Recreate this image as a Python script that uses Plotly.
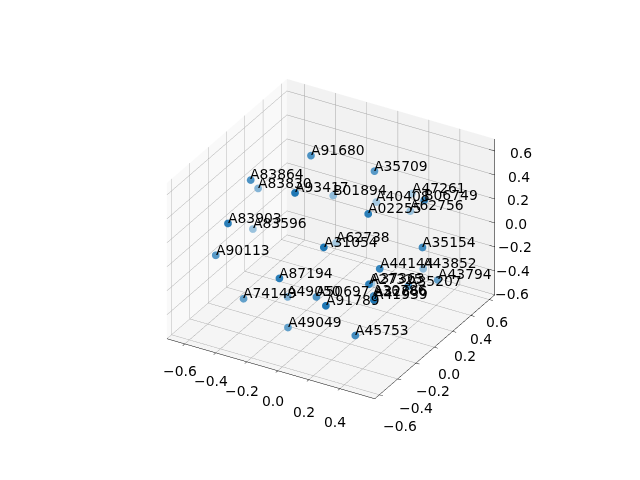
import plotly.graph_objects as go

names = ["A91680","A35709","A83864","A83830","A93417","B01894","A47261","B06749","A40408","A02255","A62756","A83903","A83596","A31054","A62738","A35154","A90113","A87194","A44144","A43852","A43794","A35207","A74149","A49050","A50697","A91789","A49049","A45753","A27325","A37363","A30786","A32866","A41939"]
xs = [-0.185,0.137,-0.416,-0.534,-0.054,-0.194,0.118,0.518,-0.043,0.299,0.167,-0.366,-0.569,0.164,-0.181,0.542,-0.513,-0.04,0.398,0.343,0.562,0.494,-0.351,-0.207,0.065,0.256,-0.096,0.34,0.401,0.048,0.374,0.277,0.48]
ys = [0.024,0.172,-0.243,0.038,-0.372,0.282,0.614,0.07,0.497,-0.171,0.512,-0.576,0.04,-0.427,0.29,0.01,-0.46,-0.566,-0.213,0.355,0.143,-0.064,-0.431,-0.194,-0.34,-0.56,-0.378,-0.381,-0.335,0.291,-0.238,-0.069,-0.415]
zs = [0.68,0.573,0.567,0.267,0.68,0.173,0.087,0.539,0.033,0.504,0.026,0.444,-0.086,0.344,-0.223,0.195,0.047,0.101,0.111,-0.285,-0.157,-0.097,-0.274,-0.362,-0.164,-0.021,-0.454,-0.356,0.064,-0.477,-0.108,-0.26,0.015]
alphas = [.8,.75,.8,.55,1,.5,.4,.9,.4,.95,.45,.95,.45,1,.4,.85,.75,.95,.9,.5,.7,.8,.7,.6,.8,1,.7,.85,.95,.4,.85,.7,1]
xticks = [-.6,-.4,-.2,0,.2,.4]
yzticks = [-.6,-.4,-.2,0,.2,.4,.6]
xr, yr, zr = [-.715, .625], [-.65, .66], [-.6, .70]

def blend(a, base=(31, 119, 180)):
    return "rgb(%d,%d,%d)" % tuple(round(a * c + (1 - a) * 255) for c in base)

def fmt(v):
    return f"{v:.1f}".replace("-", "\u2212")

FONT = dict(family="DejaVu Sans", size=13.9, color="black")
def note(x, y, z, text, xanchor, yanchor, xshift, yshift):
    return dict(x=x, y=y, z=z, text=text, showarrow=False, xanchor=xanchor, yanchor=yanchor,
                xshift=xshift, yshift=yshift, borderpad=0, borderwidth=0, font=FONT)

xedge, yedge, ylow = xr[1] - 1e-4, yr[1] - 1e-4, yr[0] + 1e-4
zlow = zr[0] + 1e-4
annotations = [note(x, y, z, n, "left", "bottom", 0, -2.5) for x, y, z, n in zip(xs, ys, zs, names)]
annotations += [note(v, ylow, zlow, fmt(v), "center", "middle", -5, -27 - 6 * (v + .6)) for v in xticks]
annotations += [note(xedge, v, zlow, fmt(v), "center", "middle", 21 - 10.8 * (v + .6), -31 + 7.5 * (v + .6)) for v in yzticks]
annotations += [note(xedge, yedge, v, fmt(v), "center", "middle", 17 + 7.5 * (v + .6), .5 - 2.5 * (v + .6)) for v in yzticks]

ax = dict(showbackground=True, gridcolor="#a4a4a4", gridwidth=1, showline=True, linecolor="black", linewidth=1,
          ticks="outside", ticklen=4, tickcolor="black", zeroline=False, showspikes=False, title=dict(text=""),
          showticklabels=False)

zedge_x, zedge_y, zedge_z = [], [], []
for v in yzticks:
    zedge_x += [xedge, xedge - .035, None]
    zedge_y += [yedge, yedge, None]
    zedge_z += [v, v, None]
zedge_x += [xedge, xedge]; zedge_y += [yedge, yedge]; zedge_z += [zr[0], zr[1]]

colors = [blend(a) for a in alphas]
fig = go.Figure([
    go.Scatter3d(x=xs, y=ys, z=zs, mode="markers",
                 marker=dict(size=4.5, color=colors, line=dict(width=0, color=colors)), hoverinfo="skip"),
    go.Scatter3d(x=zedge_x, y=zedge_y, z=zedge_z, mode="lines", line=dict(color="black", width=1), hoverinfo="skip"),
])
t = 2.024
r = (.866, .5, 0); u = (-.25, .433, .866); e = (.433, -.75, .5)
c = [(8 / 118 * a - 9 / 118 * b) / 2 for a, b in zip(r, u)]
fig.update_layout(width=640, height=480, margin=dict(l=0, r=0, t=0, b=0), paper_bgcolor="white", showlegend=False,
    scene=dict(domain=dict(x=[0.034, 1], y=[0, 1]), aspectmode="manual", aspectratio=dict(x=1, y=1, z=.75),
        camera=dict(eye=dict(x=e[0]*t + c[0], y=e[1]*t + c[1], z=e[2]*t + c[2]), up=dict(x=0, y=0, z=1),
                    center=dict(x=c[0], y=c[1], z=c[2]), projection=dict(type="orthographic")),
        xaxis=dict(ax, range=xr, tickvals=xticks, backgroundcolor="#f9f9f9"),
        yaxis=dict(ax, range=yr, tickvals=yzticks, backgroundcolor="#f2f2f2"),
        zaxis=dict(ax, range=zr, tickvals=yzticks, backgroundcolor="#f5f5f5", showline=False, ticks=""),
        annotations=annotations))
fig.write_html("out.html")
